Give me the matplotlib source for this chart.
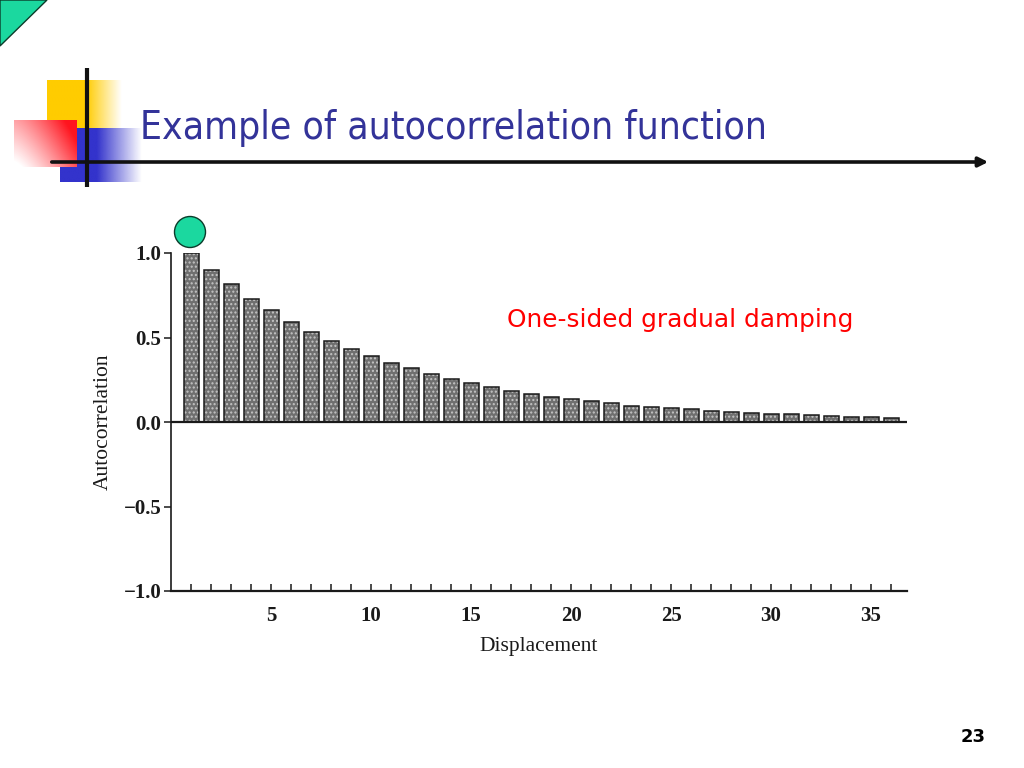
import numpy as np
import matplotlib
matplotlib.use("Agg")
import matplotlib.pyplot as plt
from matplotlib.patches import Polygon, Circle, Rectangle, FancyArrowPatch

# ==================== data ====================
lags = list(range(1, 37))
acf = [1.0, 0.90, 0.815, 0.73, 0.66, 0.59, 0.53, 0.48, 0.43, 0.39,
       0.35, 0.32, 0.285, 0.256, 0.23, 0.205, 0.185, 0.167, 0.15, 0.136,
       0.124, 0.11, 0.096, 0.09, 0.083, 0.075, 0.067, 0.059, 0.055, 0.049,
       0.045, 0.041, 0.036, 0.03, 0.028, 0.025]
ytick_vals = [-1.0, -0.5, 0.0, 0.5, 1.0]
ytick_labels = ["\u22121.0", "\u22120.5", "0.0", "0.5", "1.0"]
xtick_labels = ["5", "10", "15", "20", "25", "30", "35"]

title = "Example of autocorrelation function"
note = "One-sided gradual damping"
page_no = "23"

W, H = 1024, 768
fig = plt.figure(figsize=(W / 100, H / 100), dpi=100)
fig.patch.set_facecolor("white")

# ==================== slide decoration (pixel coords) ====================
bg = fig.add_axes([0, 0, 1, 1])
bg.set_xlim(0, W)
bg.set_ylim(H, 0)
bg.axis("off")

green = "#1BD89F"
bg.add_patch(Polygon([(0, 0), (47, 0), (0, 46)], closed=True,
                     facecolor=green, edgecolor="#0b3b2a", lw=1))


def hgrad(rgb, x0, x1, y0, y1, solid=0.5):
    # horizontal fade: solid on the left, fading to white on the right
    n = 200
    a = np.ones(n)
    k = int(n * solid)
    a[k:] = np.linspace(1, 0, n - k)
    img = np.zeros((1, n, 4))
    img[..., :3] = rgb
    img[0, :, 3] = a
    bg.imshow(img, extent=(x0, x1, y1, y0), aspect="auto",
              interpolation="bilinear", zorder=0)


hgrad((1.0, 0.80, 0.0), 47, 122, 80, 128, solid=0.52)
hgrad((0.20, 0.20, 0.80), 60, 142, 128, 182, solid=0.45)

# red block: opaque, vivid at the top-right, fading to white toward bottom-left
bg.add_patch(Rectangle((14, 120), 63, 47, facecolor="white", edgecolor="none",
                       zorder=0.3))
n = 120
gx = np.linspace(0, 1, n)
gy = np.linspace(0, 1, n)
XX, YY = np.meshgrid(gx, gy)
alpha = np.clip(0.8 * XX ** 1.3 + 0.45 * (1 - YY) - 0.05, 0, 1)
red = np.zeros((n, n, 4))
red[..., 0] = 1.0
red[..., 1] = 0.08
red[..., 2] = 0.12
red[..., 3] = alpha
bg.imshow(red, extent=(14, 77, 167, 120), aspect="auto",
          interpolation="bilinear", zorder=0.5)

bg.plot([87, 87], [68, 187], color="#111111", lw=3, solid_capstyle="butt", zorder=2)
bg.add_patch(FancyArrowPatch((49, 162), (991, 162), arrowstyle="-|>",
                             mutation_scale=14, color="#111111", lw=2.6, zorder=2))

bg.text(140, 128, title, fontsize=28, color="#333399", va="center", ha="left",
        family="DejaVu Sans", stretch="condensed")
bg.text(507, 320, note, fontsize=17.8, color="#FF0000", va="center", ha="left",
        family="DejaVu Sans")
bg.text(986, 737, page_no, fontsize=13, fontweight="bold", color="black",
        va="center", ha="right", family="DejaVu Sans")

bg.add_patch(Circle((190, 232), 15.5, facecolor=green, edgecolor="#0b3b2a", lw=1))

# ==================== chart ====================
ax = fig.add_axes([171 / W, 1 - 591 / H, (907 - 171) / W, (591 - 253) / H])
ax.set_facecolor("none")

serif = "Liberation Serif"
ink = "#1a1a1a"

ax.bar(lags, acf, width=0.75, color="#6f6f6f", hatch="....",
       edgecolor="#c4c4c4", linewidth=0, zorder=2)
ax.bar(lags, acf, width=0.75, fill=False, edgecolor=ink, linewidth=1.1, zorder=3)
ax.axhline(0, color=ink, lw=1.6, zorder=4)

ax.set_xlim(0, 36.8)
ax.set_ylim(-1.0, 1.0)

for side in ["top", "right"]:
    ax.spines[side].set_visible(False)
ax.spines["left"].set_color(ink)
ax.spines["left"].set_linewidth(1.2)
ax.spines["bottom"].set_color(ink)
ax.spines["bottom"].set_linewidth(1.6)

ax.set_xticks(lags, minor=True)
ax.set_xticks([5, 10, 15, 20, 25, 30, 35])
ax.set_xticklabels(xtick_labels)
ax.tick_params(axis="x", which="both", direction="in", length=5, width=1.1,
               color=ink, pad=11)
ax.set_yticks(ytick_vals)
ax.set_yticklabels(ytick_labels)
ax.tick_params(axis="y", direction="out", length=5, width=1.1, color=ink, pad=2)

for lab in ax.get_xticklabels() + ax.get_yticklabels():
    lab.set_family(serif)
    lab.set_fontsize(15)
    lab.set_fontweight("semibold")
    lab.set_color(ink)

ax.set_xlabel("Displacement", family=serif, fontsize=15.5, color=ink, labelpad=8)
ax.set_ylabel("Autocorrelation", family=serif, fontsize=15.5, color=ink, labelpad=8)

fig.savefig("out.png", dpi=100)
